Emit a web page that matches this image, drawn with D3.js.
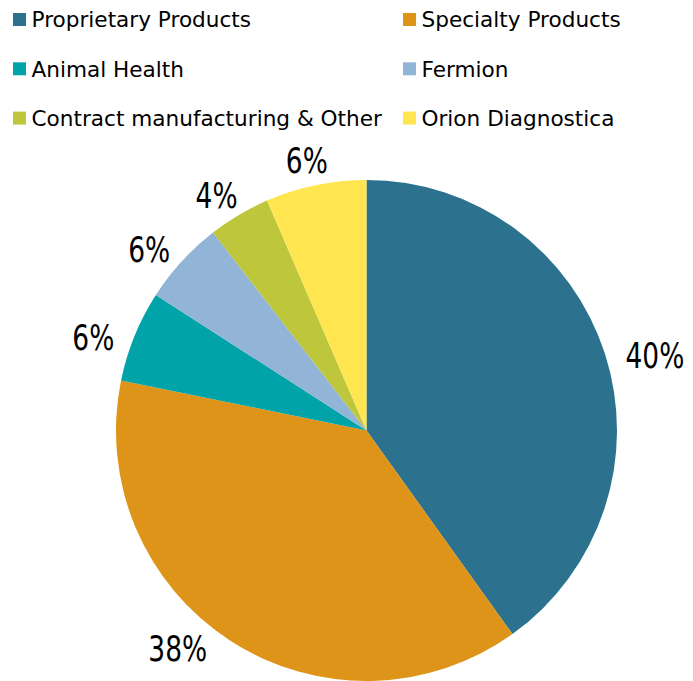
<!DOCTYPE html>
<html><head><meta charset="utf-8">
<script src="https://cdn.jsdelivr.net/npm/d3@7/dist/d3.min.js"></script>
<style>html,body{margin:0;padding:0;background:#fff;}svg{display:block;}</style>
</head><body>
<svg id="chart" width="693" height="681"></svg>
<script>
const categories = ["Proprietary Products","Specialty Products","Animal Health","Fermion","Contract manufacturing & Other","Orion Diagnostica"];
const values = [40.1, 38.1, 5.9, 5.4, 4.0, 6.5];
const labels = ["40%","38%","6%","6%","4%","6%"];
const colors = ["#2C728F","#DE9418","#00A3A8","#92B4D6","#BEC63B","#FFE651"];

const W = 693, H = 681;
const svg = d3.select("#chart");
const cx = 366.5, cy = 430.5, r = 250.5;

const pie = d3.pie().sort(null).value(d => d.v);
const data = categories.map((c,i)=>({c, v: values[i], lab: labels[i], col: colors[i]}));
const arcs = pie(data);
const arc = d3.arc().innerRadius(0).outerRadius(r);

const g = svg.append("g").attr("transform",`translate(${cx},${cy})`);
g.selectAll("path").data(arcs).join("path")
  .attr("d", arc).attr("fill", d => d.data.col);

// labels (outside end)
const D0 = 294, drop = 18, slideR = 288, sx = 0.84, fs = 35;
const labelFont = "'DejaVu Sans Condensed','DejaVu Sans',sans-serif";
arcs.forEach(a => {
  const tx = g.append("text")
    .style("font-family", labelFont).style("font-size", fs+"px").attr("fill","#000")
    .attr("text-anchor","middle").attr("dy","0.36em")
    .text(a.data.lab);
  const w = tx.node().getComputedTextLength()*sx;
  let t = (a.startAngle + a.endAngle)/2;
  const s = Math.sin(t), c = Math.cos(t);
  const D = D0 + Math.max(0, (w - 40)/2)*Math.abs(s);
  let x = D*s, y = -D*c + drop;
  const maxY = H - 33 - cy;
  if (y > maxY) {
    // keep the label inside the chart: slide it along the circle
    const th = Math.acos(Math.min(1, maxY/slideR));
    const t2 = t > Math.PI ? Math.PI + th : Math.PI - th;
    x = slideR*Math.sin(t2); y = -slideR*Math.cos(t2);
  }
  tx.attr("transform", `translate(${x},${y}) scale(${sx},1)`);
});

// legend
const legX = [13, 403], legY0 = 13, legStep = 49.3, sq = 13;
const leg = svg.append("g");
data.forEach((d,i) => {
  const col = i % 2, row = Math.floor(i/2);
  const x = legX[col], y = legY0 + row*legStep;
  leg.append("rect").attr("x", x).attr("y", y).attr("width", sq).attr("height", sq).attr("fill", d.col);
  leg.append("text").attr("x", x + sq + 5.5).attr("y", y + 14.3)
    .style("font-family","'DejaVu Sans',Verdana,sans-serif").style("font-size","21.6px").attr("fill","#000")
    .text(d.c);
});
</script>
</body></html>
